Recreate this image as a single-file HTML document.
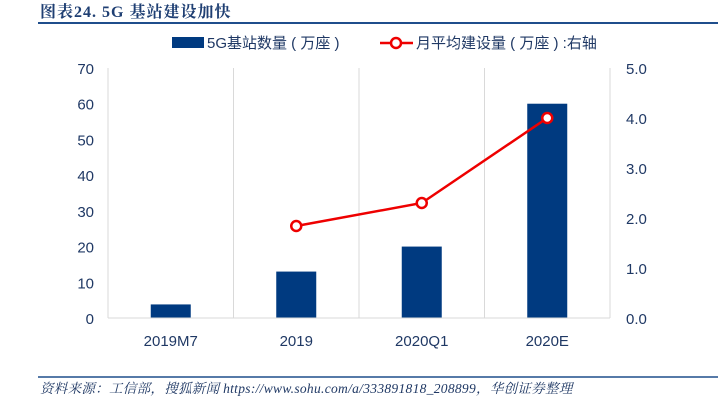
<!DOCTYPE html>
<html><head><meta charset="utf-8"><style>
body{margin:0;background:#fff;width:718px;height:413px;overflow:hidden;font-family:"Liberation Sans","Noto Sans CJK SC",sans-serif}
</style></head><body>
<svg width="718" height="413">
<text x="40" y="17" font-family="'Liberation Serif','Noto Serif CJK SC',serif" font-weight="bold" font-size="16" letter-spacing="1" fill="#1f3f73">图表24.  5G 基站建设加快</text>
<line x1="38" y1="23" x2="718" y2="23" stroke="#1f4e8c" stroke-width="2"/>
<g>
<rect x="172" y="37" width="32" height="11" fill="#003a80"/>
<text x="207" y="48" font-size="15" fill="#1f3864">5G基站数量 ( 万座 )</text>
<line x1="380" y1="43" x2="413" y2="43" stroke="#e00" stroke-width="2.5"/>
<circle cx="396" cy="43" r="5" fill="#fff" stroke="#e00" stroke-width="2.5"/>
<text x="416" y="48" font-size="15" fill="#1f3864">月平均建设量 ( 万座 ) :右轴</text>
</g>
<g id="grid"></g><g id="bars"></g><g id="line"></g><g id="axes"></g>
<line x1="38" y1="377" x2="718" y2="377" stroke="#1f4e8c" stroke-width="1.5"/>
<text x="40" y="393" font-family="'Liberation Serif','Noto Serif CJK SC',serif" font-style="italic" font-size="13.5" letter-spacing="0.3" fill="#1f3864">资料来源：工信部，搜狐新闻 https://www.sohu.com/a/333891818_208899，华创证券整理</text>
</svg>
<script>
const categories=["2019M7","2019","2020Q1","2020E"];
const barValues=[3.8,13,20,60];
const lineValues=[null,1.84,2.3,4.0];
const leftTicks=[0,10,20,30,40,50,60,70];
const rightTicks=["0.0","1.0","2.0","3.0","4.0","5.0"];
const NS="http://www.w3.org/2000/svg";
const L=108,R=610,T=68,B=318;
const yL=v=>B-(v/70)*(B-T);
const yR=v=>B-(v/5)*(B-T);
const bw=(R-L)/categories.length;
const xC=i=>L+bw*(i+0.5);
function mk(p,tag,a){const e=document.createElementNS(NS,tag);for(const k in a)e.setAttribute(k,a[k]);document.getElementById(p).appendChild(e);return e;}
for(let i=0;i<=categories.length;i++){
 const g=mk("grid","line",{x1:L+bw*i,x2:L+bw*i,y1:T,y2:B,stroke:"#d9d9d9"});
 
 
}
const ax=mk("axes","line",{x1:L,x2:R,y1:B,y2:B,stroke:"#d9d9d9"});


leftTicks.forEach(v=>{const t=mk("axes","text",{x:94,y:yL(v)+6,"text-anchor":"end","font-size":"15",fill:"#1f3864"});t.textContent=v;
 
 });
rightTicks.forEach(v=>{const t=mk("axes","text",{x:626,y:yR(+v)+6,"font-size":"15",fill:"#1f3864"});t.textContent=v;
 
 });
categories.forEach((c,i)=>{const t=mk("axes","text",{x:xC(i),y:346,"text-anchor":"middle","font-size":"15",fill:"#1f3864"});t.textContent=c;
 
 
 const b=mk("bars","rect",{x:xC(i)-20,y:yL(barValues[i]),width:40,height:B-yL(barValues[i]),fill:"#003a80"});
 
 });
let pts=[];lineValues.forEach((v,i)=>{if(v!=null)pts.push([xC(i),yR(v)]);});
const pl=mk("line","polyline",{points:pts.map(p=>p.join(",")).join(" "),fill:"none",stroke:"#e00","stroke-width":"2.5"});


pts.forEach(p=>{const c=mk("line","circle",{cx:p[0],cy:p[1],r:5,fill:"#fff",stroke:"#e00","stroke-width":"2.5"});
 
 });
</script>
</body></html>
